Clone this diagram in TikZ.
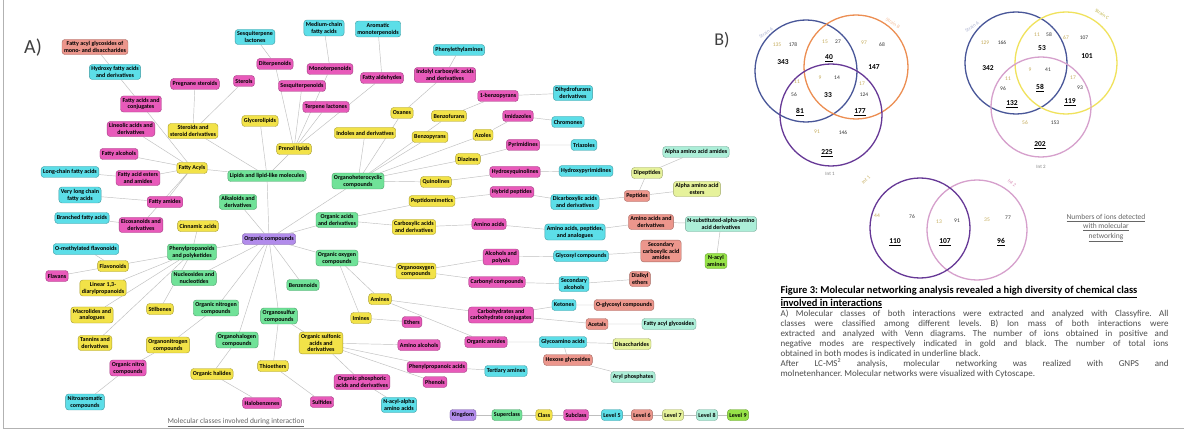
\documentclass[tikz,border=0pt]{standalone}
\usepackage{fontspec}
\setmainfont{Carlito}
\usetikzlibrary{backgrounds}

\definecolor{kingfill}{RGB}{178,140,235}
\definecolor{supfill}{RGB}{112,226,152}
\definecolor{clsfill}{RGB}{242,226,72}
\definecolor{subfill}{RGB}{232,90,186}
\definecolor{fivefill}{RGB}{92,222,232}
\definecolor{sixfill}{RGB}{236,150,140}
\definecolor{sevenfill}{RGB}{230,242,155}
\definecolor{eightfill}{RGB}{172,238,216}
\definecolor{ninefill}{RGB}{150,226,72}
\definecolor{goldnum}{RGB}{196,170,88}
\definecolor{vblue}{RGB}{72,86,152}
\definecolor{vorange}{RGB}{236,142,82}
\definecolor{vpurple}{RGB}{102,56,150}
\definecolor{vyellow}{RGB}{240,226,92}
\definecolor{vpink}{RGB}{214,160,204}

\begin{document}
\begin{tikzpicture}[
  x=1pt, y=-1pt,
  every node/.style={font=\fontsize{6}{6.8}\selectfont},
  cbox/.style={rounded corners=3pt, inner sep=2pt, minimum height=11pt, align=center, line width=0.4pt, font=\fontsize{6}{6.8}\selectfont\bfseries},
  kingbox/.style={cbox, fill=kingfill, draw=kingfill!70!black},
  supbox/.style={cbox, fill=supfill, draw=supfill!70!black},
  clsbox/.style={cbox, fill=clsfill, draw=clsfill!70!black},
  subbox/.style={cbox, fill=subfill, draw=subfill!70!black},
  fivebox/.style={cbox, fill=fivefill, draw=fivefill!70!black},
  sixbox/.style={cbox, fill=sixfill, draw=sixfill!70!black},
  sevenbox/.style={cbox, fill=sevenfill, draw=sevenfill!70!black},
  eightbox/.style={cbox, fill=eightfill, draw=eightfill!70!black},
  ninebox/.style={cbox, fill=ninefill, draw=ninefill!70!black},
  link/.style={draw=gray!50, line width=0.45pt},
  ring/.style={line width=1.3pt},
  gnum/.style={text=goldnum, font=\fontsize{5.5}{6}\selectfont},
  knum/.style={text=black!80, font=\fontsize{5.5}{6}\selectfont},
  tnum/.style={font=\fontsize{7.5}{8}\selectfont\bfseries},
  vlab/.style={font=\fontsize{5}{6}\selectfont},
  capt/.style={text width=388pt, align=justify, font=\fontsize{9}{10}\selectfont\frenchspacing}
]
\useasboundingbox (0,0) rectangle (1184,433);

% panel letters and frame
\draw[gray!60, line width=0.8pt] (3,0) -- (3,428) -- (1184,428);
\node[font=\fontsize{20}{20}\selectfont, text=black!75] (pa) at (33,48) {A)};
\node[font=\fontsize{18}{18}\selectfont, text=black!75] (pb) at (722,40) {B)};

% kingdom and superclasses
\node[kingbox] (org) at (269,239) {Organic compounds};
\node[supbox] (lip) at (267,176) {Lipids and lipid-like molecules};
\node[supbox] (het) at (358,181) {Organoheterocyclic\\compounds};
\node[supbox] (alk) at (238,202) {Alkaloids and\\derivatives};
\node[supbox] (acid) at (337,220) {Organic acids\\and derivatives};
\node[supbox] (phen) at (192,252) {Phenylpropanoids\\and polyketides};
\node[supbox] (oxy) at (337,258) {Organic oxygen\\compounds};
\node[supbox] (nuc) at (194,278) {Nucleosides and\\nucleotides};
\node[supbox] (benz) at (303,285) {Benzenoids};
\node[supbox] (nitro) at (216,308) {Organic nitrogen\\compounds};
\node[supbox] (sulf) at (279,316) {Organosulfur\\compounds};
\node[supbox] (halo) at (237,340) {Organohalogen\\compounds};

% classes
\node[clsbox] (prenol) at (294,149) {Prenol lipids};
\node[clsbox] (facyl) at (192,168) {Fatty Acyls};
\node[clsbox] (stero) at (193,131) {Steroids and\\steroid derivatives};
\node[clsbox] (glyc) at (260,121) {Glycerolipids};
\node[clsbox] (indol) at (365,133) {Indoles and derivatives};
\node[clsbox] (oxan) at (402,113) {Oxanes};
\node[clsbox] (bfur) at (449,116) {Benzofurans};
\node[clsbox] (bpyr) at (430,137) {Benzopyrans};
\node[clsbox] (azol) at (483,135) {Azoles};
\node[clsbox] (diaz) at (468,159) {Diazines};
\node[clsbox] (quin) at (436,182) {Quinolines};
\node[clsbox] (pept) at (432,201) {Peptidomimetics};
\node[clsbox] (carb) at (414,227) {Carboxylic acids\\and derivatives};
\node[clsbox] (orgox) at (416,271) {Organooxygen\\compounds};
\node[clsbox] (amin) at (380,299) {Amines};
\node[clsbox] (imin) at (361,318) {Imines};
\node[clsbox] (cinn) at (198,226) {Cinnamic acids};
\node[clsbox] (flav) at (113,266) {Flavonoids};
\node[clsbox] (diar) at (103,288) {Linear 1,3-\\diarylpropanoids};
\node[clsbox] (macro) at (92,315) {Macrolides and\\analogues};
\node[clsbox] (stil) at (160,309) {Stilbenes};
\node[clsbox] (tann) at (95,343) {Tannins and\\derivatives};
\node[clsbox] (orgn) at (168,345) {Organonitrogen\\compounds};
\node[clsbox] (sulfo) at (321,343) {Organic sulfonic\\acids and\\derivatives};
\node[clsbox] (ohal) at (212,374) {Organic halides};
\node[clsbox] (thio) at (273,366) {Thioethers};

% subclasses
\node[subbox] (falc) at (119,154) {Fatty alcohols};
\node[subbox] (fest) at (138,178) {Fatty acid esters\\and amides};
\node[subbox] (famid) at (165,202) {Fatty amides};
\node[subbox] (fconj) at (141,104) {Fatty acids and\\conjugates};
\node[subbox] (linol) at (131,129) {Lineolic acids and\\derivatives};
\node[subbox] (eico) at (141,225) {Eicosanoids and\\derivatives};
\node[subbox] (diter) at (275,64) {Diterpenoids};
\node[subbox] (mono) at (330,69) {Monoterpenoids};
\node[subbox] (fald) at (382,78) {Fatty aldehydes};
\node[subbox] (preg) at (195,84) {Pregnane steroids};
\node[subbox] (sterol) at (244,81) {Sterols};
\node[subbox] (sesq) at (302,86) {Sesquiterpenoids};
\node[subbox] (tlac) at (326,107) {Terpene lactones};
\node[subbox] (indc) at (445,75) {Indolyl carboxylic acids\\and derivatives};
\node[subbox] (bpyra) at (498,96) {1-benzopyrans};
\node[subbox] (imid) at (518,116) {Imidazoles};
\node[subbox] (pyrim) at (523,145) {Pyrimidines};
\node[subbox] (hquin) at (515,172) {Hydroxyquinolines};
\node[subbox] (hybr) at (512,192) {Hybrid peptides};
\node[subbox] (amac) at (489,224) {Amino acids};
\node[subbox] (alcpol) at (501,257) {Alcohols and\\polyols};
\node[subbox] (cbnl) at (497,282) {Carbonyl compounds};
\node[subbox] (carbo) at (501,315) {Carbohydrates and\\carbohydrate conjugates};
\node[subbox] (ether) at (412,322) {Ethers};
\node[subbox] (aalc) at (419,345) {Amino alcohols};
\node[subbox] (oamid) at (486,342) {Organic amides};
\node[subbox] (ppac) at (437,367) {Phenylpropanoic acids};
\node[subbox] (phenol) at (435,382) {Phenols};
\node[subbox] (phos) at (362,382) {Organic phosphoric\\acids and derivatives};
\node[subbox] (flavan) at (57,276) {Flavans};
\node[subbox] (onit) at (128,368) {Organic nitro\\compounds};
\node[subbox] (halob) at (262,403) {Halobenzenes};
\node[subbox] (sulfid) at (322,402) {Sulfides};

% level 5
\node[fivebox] (hyfa) at (115,72) {Hydroxy fatty acids\\and derivatives};
\node[fivebox] (sqlac) at (255,37) {Sesquiterpene\\lactones};
\node[fivebox] (mcfa) at (324,28) {Medium-chain\\fatty acids};
\node[fivebox] (armono) at (378,29) {Aromatic\\monoterpenoids};
\node[fivebox] (pea) at (459,50) {Phenylethylamines};
\node[fivebox] (dhf) at (573,93) {Dihydrofurans\\derivatives};
\node[fivebox] (chrom) at (568,122) {Chromones};
\node[fivebox] (triaz) at (584,145) {Triazoles};
\node[fivebox] (hpyr) at (586,171) {Hydroxypyrimidines};
\node[fivebox] (dicarb) at (575,202) {Dicarboxylic acids\\and derivatives};
\node[fivebox] (aapep) at (575,232) {Amino acids, peptides,\\and analogues};
\node[fivebox] (glyco) at (581,256) {Glycosyl compounds};
\node[fivebox] (secalc) at (574,284) {Secondary\\alcohols};
\node[fivebox] (keto) at (564,305) {Ketones};
\node[fivebox] (glyam) at (563,342) {Glycoamino acids};
\node[fivebox] (tamin) at (506,371) {Tertiary amines};
\node[fivebox] (nacyl) at (399,405) {N-acyl-alpha\\amino acids};
\node[fivebox] (lcfa) at (70,172) {Long-chain fatty acids};
\node[fivebox] (vlcfa) at (80,195) {Very long chain\\fatty acids};
\node[fivebox] (bfa) at (82,218) {Branched fatty acids};
\node[fivebox] (omfl) at (86,249) {O-methylated flavonoids};
\node[fivebox] (nitar) at (85,402) {Nitroaromatic\\compounds};

% level 6
\node[sixbox] (facg) at (95,47) {Fatty acyl glycosides of\\mono- and disaccharides};
\node[sixbox] (peps) at (637,196) {Peptides};
\node[sixbox] (aader) at (651,222) {Amino acids and\\derivatives};
\node[sixbox] (secam) at (661,251) {Secondary\\carboxylic acid\\amides};
\node[sixbox] (dialk) at (640,279) {Dialkyl\\ethers};
\node[sixbox] (oglyc) at (624,305) {O-glycosyl compounds};
\node[sixbox] (acet) at (597,324) {Acetals};
\node[sixbox] (hexg) at (568,360) {Hexose glycosides};

% levels 7 to 9
\node[sevenbox] (dipep) at (647,173) {Dipeptides};
\node[sevenbox] (aaest) at (697,189) {Alpha amino acid\\esters};
\node[sevenbox] (disac) at (632,344) {Disaccharides};
\node[eightbox] (aaam) at (696,152) {Alpha amino acid amides};
\node[eightbox] (nsub) at (721,224) {N-substituted-alpha-amino\\acid derivatives};
\node[eightbox] (fagly) at (669,324) {Fatty acyl glycosides};
\node[eightbox] (arph) at (633,377) {Aryl phosphates};
\node[ninebox] (nacam) at (716,261) {N-acyl\\amines};

% legend
\node[kingbox] (lgk) at (463,415) {Kingdom};
\node[supbox] (lgs) at (507,415) {Superclass};
\node[clsbox] (lgc) at (544,415) {Class};
\node[subbox] (lgsub) at (576,415) {Subclass};
\node[fivebox] (lg5) at (612,415) {Level 5};
\node[sixbox] (lg6) at (642,415) {Level 6};
\node[sevenbox] (lg7) at (673,415) {Level 7};
\node[eightbox] (lg8) at (707,415) {Level 8};
\node[ninebox] (lg9) at (738,415) {Level 9};

\node[font=\fontsize{7.5}{8}\selectfont, text=black!60] (capa) at (236,423) {\underline{Molecular classes involved during interaction}};

\begin{scope}[on background layer]
\fill[white] (0,0) rectangle (1184,433);
\draw[link] (org) -- (lip) (org) -- (het) (org) -- (alk) (org) -- (acid) (org) -- (phen) (org) -- (oxy)
  (org) -- (nuc) (org) -- (benz) (org) -- (nitro) (org) -- (sulf) (org) -- (halo);
\draw[link] (lip) -- (prenol) (lip) -- (facyl) (lip) -- (stero) (lip) -- (glyc);
\draw[link] (facyl) -- (falc) (facyl) -- (fest) (facyl) -- (famid) (facyl) -- (fconj) (facyl) -- (linol) (facyl) -- (eico);
\draw[link] (fest) -- (lcfa) (fconj) -- (hyfa) (famid) -- (vlcfa) (eico) -- (bfa) (hyfa) -- (facg);
\draw[link] (prenol) -- (diter) (prenol) -- (mono) (prenol) -- (sesq) (prenol) -- (tlac) (prenol) -- (fald);
\draw[link] (stero) -- (preg) (stero) -- (sterol) (diter) -- (sqlac) (mono) -- (mcfa) (fald) -- (armono);
\draw[link] (het) -- (indol) (het) -- (oxan) (het) -- (bfur) (het) -- (bpyr) (het) -- (azol) (het) -- (diaz) (het) -- (quin);
\draw[link] (oxan) -- (indc) (indc) -- (pea) (bfur) -- (bpyra) (bpyra) -- (dhf) (azol) -- (imid) (imid) -- (chrom);
\draw[link] (diaz) -- (pyrim) (pyrim) -- (triaz) (quin) -- (hquin) (hquin) -- (hpyr);
\draw[link] (acid) -- (pept) (acid) -- (carb) (pept) -- (hybr) (hybr) -- (dicarb) (dicarb) -- (peps)
  (peps) -- (dipep) (dipep) -- (aaam) (peps) -- (aaest);
\draw[link] (carb) -- (amac) (amac) -- (aapep) (aapep) -- (aader) (aader) -- (nsub) (nsub) -- (nacam);
\draw[link] (oxy) -- (orgox) (oxy) -- (amin) (oxy) -- (imin) (orgox) -- (alcpol) (orgox) -- (cbnl);
\draw[link] (alcpol) -- (glyco) (glyco) -- (secam) (cbnl) -- (secalc) (secalc) -- (dialk);
\draw[link] (amin) -- (carbo) (amin) -- (oamid) (carbo) -- (keto) (carbo) -- (acet) (keto) -- (oglyc) (acet) -- (fagly);
\draw[link] (imin) -- (ether) (sulfo) -- (aalc) (sulfo) -- (ppac) (sulfo) -- (phenol) (sulfo) -- (phos);
\draw[link] (oamid) -- (glyam) (glyam) -- (disac) (glyam) -- (hexg) (hexg) -- (arph) (ppac) -- (tamin) (phos) -- (nacyl);
\draw[link] (phen) -- (cinn) (phen) -- (flav) (phen) -- (diar) (phen) -- (macro) (phen) -- (stil) (phen) -- (tann);
\draw[link] (flav) -- (flavan) (flav) -- (omfl);
\draw[link] (nitro) -- (orgn) (orgn) -- (onit) (onit) -- (nitar);
\draw[link] (sulf) -- (sulfo) (sulf) -- (thio) (thio) -- (sulfid) (halo) -- (ohal) (ohal) -- (halob);
\draw[link] (lgk) -- (lgs) -- (lgc) -- (lgsub) -- (lg5) -- (lg6) -- (lg7) -- (lg8) -- (lg9);
\end{scope}

% Venn diagram 1
\draw[ring, vblue] (806,71) circle[radius=51pt];
\draw[ring, vorange] (856,67) circle[radius=52pt];
\draw[ring, vpurple] (831,115) circle[radius=51pt];
\node[vlab, text=vblue!45, rotate=35] (a0a) at (766,33) {Strain A};
\node[vlab, text=vorange!60, rotate=-32] (a0b) at (893,23) {Strain B};
\node[vlab, text=gray] (a0c) at (830,174) {Int 1};
\node[gnum] (a1g) at (777,45) {135};
\node[knum] (a1k) at (793,45) {178};
\node[tnum] (a1t) at (783,62) {343};
\node[gnum] (a2g) at (825,42) {15};
\node[knum] (a2k) at (838,42) {27};
\node[tnum] (a2t) at (829,58) {\underline{40}};
\node[gnum] (a3g) at (864,43) {97};
\node[knum] (a3k) at (882,45) {68};
\node[tnum] (a3t) at (874,67) {147};
\node[gnum] (a4g) at (820,78) {9};
\node[knum] (a4k) at (837,78) {14};
\node[tnum] (a4t) at (828,95) {33};
\node[gnum] (a5g) at (797,82) {11};
\node[knum] (a5k) at (794,95) {56};
\node[tnum] (a5t) at (800,112) {\underline{81}};
\node[gnum] (a6g) at (862,84) {17};
\node[knum] (a6k) at (864,95) {124};
\node[tnum] (a6t) at (860,112) {\underline{177}};
\node[gnum] (a7g) at (817,132) {91};
\node[knum] (a7k) at (843,133) {146};
\node[tnum] (a7t) at (827,153) {\underline{225}};

% Venn diagram 2
\draw[ring, vblue] (1016,63) circle[radius=51pt];
\draw[ring, vyellow] (1066,63) circle[radius=51pt];
\draw[ring, vpink] (1041,107) circle[radius=50pt];
\node[vlab, text=vblue!45, rotate=35] (b0a) at (972,27) {Strain A};
\node[vlab, text=vyellow!80!black, rotate=-32] (b0b) at (1102,14) {Strain C};
\node[vlab, text=gray] (b0c) at (1041,167) {Int 2};
\node[gnum] (b1g) at (985,43) {129};
\node[knum] (b1k) at (1002,43) {166};
\node[tnum] (b1t) at (988,68) {342};
\node[gnum] (b2g) at (1037,35) {11};
\node[knum] (b2k) at (1049,35) {58};
\node[tnum] (b2t) at (1042,48) {53};
\node[gnum] (b3g) at (1066,38) {67};
\node[knum] (b3k) at (1084,38) {107};
\node[tnum] (b3t) at (1087,56) {101};
\node[gnum] (b4g) at (1030,70) {9};
\node[knum] (b4k) at (1048,70) {41};
\node[tnum] (b4t) at (1040,88) {\underline{58}};
\node[gnum] (b5g) at (1008,79) {11};
\node[knum] (b5k) at (1003,89) {96};
\node[tnum] (b5t) at (1012,104) {\underline{132}};
\node[gnum] (b6g) at (1073,78) {17};
\node[knum] (b6k) at (1080,88) {93};
\node[tnum] (b6t) at (1070,102) {\underline{119}};
\node[gnum] (b7g) at (1025,123) {56};
\node[knum] (b7k) at (1055,123) {153};
\node[tnum] (b7t) at (1040,145) {\underline{202}};

% Venn diagram 3
\draw[ring, vpink] (977,230) circle[radius=50pt];
\draw[ring, vpurple] (920,228) circle[radius=50pt];
\node[vlab, text=goldnum, rotate=40] (c0a) at (866,180) {Int 1};
\node[vlab, text=vpink!90!red, rotate=-40] (c0b) at (1012,183) {Int 2};
\node[gnum] (c1g) at (877,216) {44};
\node[knum] (c1k) at (912,217) {76};
\node[tnum] (c1t) at (895,242) {\underline{110}};
\node[gnum] (c2g) at (939,222) {13};
\node[knum] (c2k) at (957,221) {91};
\node[tnum] (c2t) at (945,242) {\underline{107}};
\node[gnum] (c3g) at (987,220) {35};
\node[knum] (c3k) at (1008,218) {77};
\node[tnum] (c3t) at (1001,242) {\underline{96}};

\node[align=center, font=\fontsize{7.5}{9.5}\selectfont, text=black!60] (ions) at (1106,228)
  {\underline{Numbers of ions detected}\\\underline{with molecular}\\\underline{networking}};

% figure caption
\node[capt, anchor=north west] (cap) at (777,283) {{\fontsize{10.5}{10}\selectfont\textbf{\underline{Figure 3: Molecular networking analysis revealed a high diversity of chemical class}}}\\
  {\fontsize{10.5}{10}\selectfont\textbf{\underline{involved in interactions}}}\\
  {\color{black!70}A) Molecular classes of both interactions were extracted and analyzed with Classyfire. All\linebreak
  classes were classified among different levels. B) Ion mass of both interactions were\linebreak
  extracted and analyzed with Venn diagrams. The number of ions obtained in positive and\linebreak
  negative modes are respectively indicated in gold and black. The number of total ions\linebreak
  obtained in both modes is indicated in underline black.\\
  After LC-MS\textsuperscript{2} analysis, molecular networking was realized with GNPS and\linebreak
  molnetenhancer. Molecular networks were visualized with Cytoscape.}};
\end{tikzpicture}
\end{document}
